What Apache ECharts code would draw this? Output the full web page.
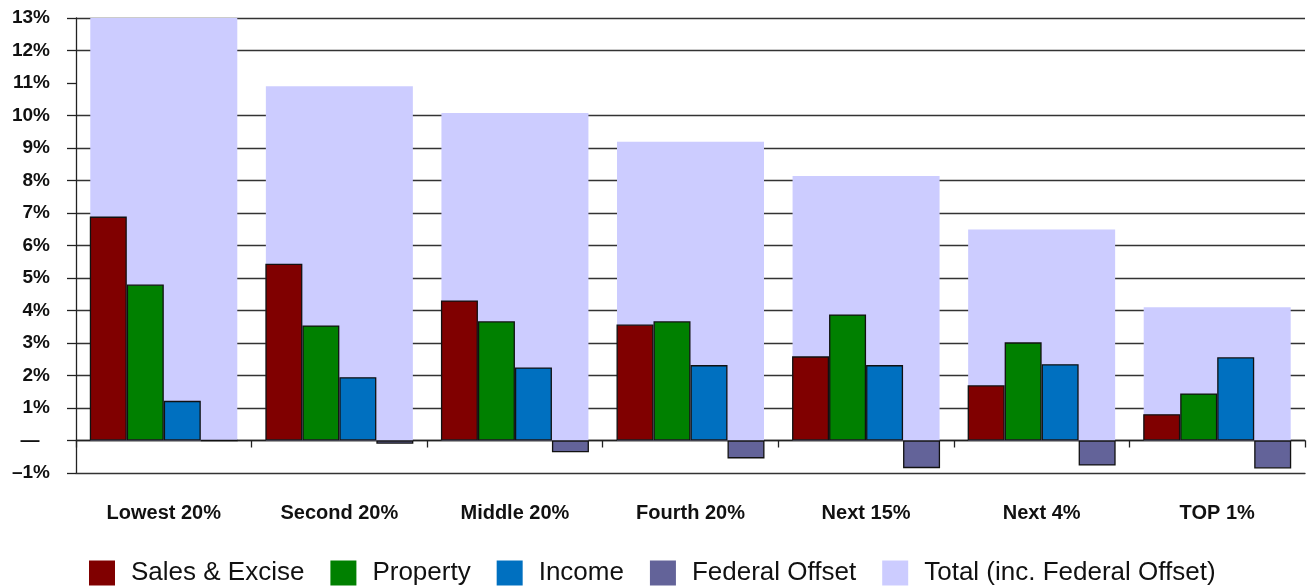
<!DOCTYPE html>
<html>
<head>
<meta charset="utf-8">
<title>Tax shares by income group</title>
<script src="https://cdn.jsdelivr.net/npm/echarts@6/dist/echarts.min.js"></script>
<style>
    html, body { margin: 0; padding: 0; background: #fff; }
    #chart { width: 1309px; height: 588px; }
</style>
</head>
<body>
<div id="chart"></div>
<script>
    // income groups
    var groups = ['Lowest 20%', 'Second 20%', 'Middle 20%', 'Fourth 20%', 'Next 15%', 'Next 4%', 'TOP 1%'];

    // taxes as % of income
    var salesExcise = [6.89, 5.44, 4.31, 3.57, 2.59, 1.70, 0.81];
    var property    = [4.80, 3.54, 3.67, 3.67, 3.88, 3.02, 1.45];
    var income      = [1.22, 1.95, 2.25, 2.32, 2.32, 2.35, 2.56];
    var fedOffset   = [0, -0.10, -0.36, -0.55, -0.85, -0.77, -0.86];
    var total       = [13.0, 10.9, 10.08, 9.19, 8.14, 6.49, 4.1];

    // horizontal rules (the picture has none at 11%)
    var gridLines = [0, 1, 2, 3, 4, 5, 6, 7, 8, 9, 10, 12, 13];

    var labelFont = '"Liberation Sans", Arial, sans-serif';

    var chart = echarts.init(document.getElementById('chart'));

    function subBar(name, data, color) {
        return {
            name: name,
            type: 'bar',
            xAxisIndex: 1,
            data: data,
            barWidth: 37,
            barGap: '0%',
            z: 3,
            itemStyle: { color: color, borderColor: '#111', borderWidth: 1.3 }
        };
    }

    chart.setOption({
        animation: false,
        grid: { left: 76, right: 4, top: 18, bottom: 115 },
        legend: {
            data: ['Sales & Excise', 'Property', 'Income', 'Federal Offset', 'Total (inc. Federal Offset)'],
            left: 89,
            top: 560,
            padding: 0,
            icon: 'rect',
            itemWidth: 26,
            itemHeight: 25,
            itemGap: 26,
            itemStyle: { borderWidth: 0 },
            textStyle: { fontFamily: labelFont, fontSize: 26, color: '#111', padding: [0, 0, 0, 11] }
        },
        xAxis: [
            {
                type: 'category',
                data: groups,
                position: 'bottom',
                axisLine: { onZero: false, lineStyle: { color: '#333', width: 1.3 } },
                axisTick: { show: false },
                axisLabel: {
                    interval: 0,
                    margin: 30,
                    fontFamily: labelFont,
                    fontWeight: 'bold',
                    fontSize: 20,
                    color: '#111'
                }
            },
            {
                type: 'category',
                data: groups,
                position: 'bottom',
                axisLine: { onZero: true, lineStyle: { color: '#222', width: 1.3 } },
                axisTick: { show: true, length: 7, lineStyle: { color: '#222', width: 1.3 } },
                axisLabel: { show: false }
            }
        ],
        yAxis: {
            type: 'value',
            min: -1,
            max: 13,
            interval: 1,
            splitLine: { show: false },
            axisLine: { show: true, lineStyle: { color: '#222', width: 1.3 } },
            axisTick: { show: true, length: 9, lineStyle: { color: '#222', width: 1.3 } },
            axisLabel: {
                margin: 26,
                fontFamily: labelFont,
                fontWeight: 'bold',
                fontSize: 19,
                color: '#111',
                formatter: function (v) {
                    if (v === 0) return '\u2014  ';
                    if (v < 0) return '\u2013' + Math.abs(v) + '%';
                    return v + '%';
                }
            }
        },
        series: [
            {
                name: 'rules',
                type: 'line',
                data: [],
                z: 0,
                markLine: {
                    silent: true,
                    symbol: 'none',
                    z: 0,
                    label: { show: false },
                    lineStyle: { color: '#333', type: 'solid', width: 1.3 },
                    data: gridLines.map(function (v) { return { yAxis: v }; })
                }
            },
            {
                name: 'Total (inc. Federal Offset)',
                type: 'bar',
                xAxisIndex: 0,
                data: total,
                barWidth: 147,
                z: 1,
                itemStyle: { color: '#ccccff' }
            },
            subBar('Sales & Excise', salesExcise, '#800000'),
            subBar('Property', property, '#008000'),
            subBar('Income', income, '#0070c0'),
            subBar('Federal Offset', fedOffset, '#636399')
        ]
    });
</script>
</body>
</html>
